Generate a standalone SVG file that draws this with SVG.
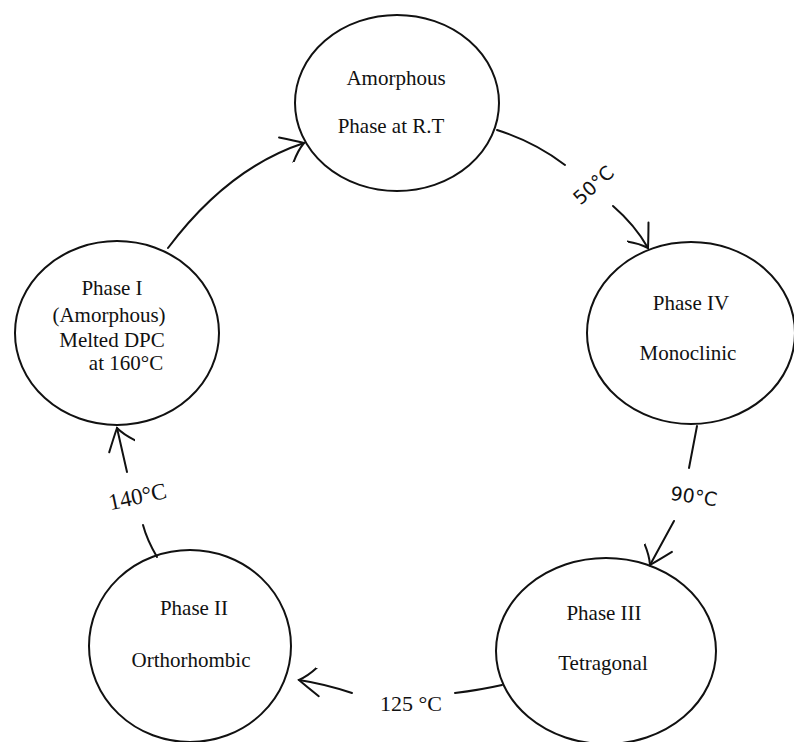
<svg xmlns="http://www.w3.org/2000/svg" width="794" height="742" viewBox="0 0 794 742">
<defs>
<style>
.node ellipse{fill:#fff;stroke:#111;stroke-width:2}
.lbl{font-family:"Liberation Serif","Times New Roman",serif;font-size:21px;fill:#111;text-anchor:middle}
.con path{fill:none;stroke:#111;stroke-width:2;stroke-linecap:round}
.tserif{font-family:"Liberation Serif","Times New Roman",serif;font-size:22px;fill:#111;text-anchor:middle}
.tsans{font-family:"DejaVu Sans","Liberation Sans",sans-serif;font-size:19px;fill:#111;text-anchor:middle}
</style>
<marker id="arr" markerUnits="userSpaceOnUse" markerWidth="30" markerHeight="30" viewBox="-26 -15 30 30" refX="0" refY="0" orient="auto">
<path d="M-22,-13 Q-8,-5 0,0 Q-8,5 -16,15" fill="none" stroke="#111" stroke-width="2" stroke-linecap="round"/>
</marker>
</defs>
<rect width="794" height="742" fill="#fff"/>
<g id="amorphous" class="node">
<ellipse cx="397" cy="103" rx="102" ry="88"/>
<text class="lbl" x="396" y="85">Amorphous</text>
<text class="lbl" x="391" y="133">Phase at R.T</text>
</g>
<g id="phase4" class="node">
<ellipse cx="691" cy="333" rx="104" ry="91"/>
<text class="lbl" x="691" y="310">Phase IV</text>
<text class="lbl" x="688" y="360">Monoclinic</text>
</g>
<g id="phase3" class="node">
<ellipse cx="606" cy="651" rx="110" ry="93"/>
<text class="lbl" x="604" y="620">Phase III</text>
<text class="lbl" x="603" y="670">Tetragonal</text>
</g>
<g id="phase2" class="node">
<ellipse cx="190" cy="646" rx="101" ry="96"/>
<text class="lbl" x="194" y="615">Phase II</text>
<text class="lbl" x="191" y="667">Orthorhombic</text>
</g>
<g id="phase1" class="node">
<ellipse cx="117" cy="333" rx="102" ry="92"/>
<text class="lbl" x="112" y="295">Phase I</text>
<text class="lbl" x="109" y="322">(Amorphous)</text>
<text class="lbl" x="112" y="347">Melted DPC</text>
<text class="lbl" x="126" y="370">at 160°C</text>
</g>
<g id="connectors" class="con">
<path d="M168,248 Q228,168 304,143" marker-end="url(#arr)"/>
<path d="M497,130 Q535,142 565,165"/>
<path d="M613,206 Q635,225 648,248" marker-end="url(#arr)"/>
<path d="M697,426 L689,468"/>
<path d="M674,521 L650,565" marker-end="url(#arr)"/>
<path d="M502,685 Q480,690 455,693"/>
<path d="M352,693 Q325,684 299,680" marker-end="url(#arr)"/>
<path d="M157,557 Q147,540 143,525"/>
<path d="M127,472 Q122,450 117,428" marker-end="url(#arr)"/>
</g>
<g id="labels">
<text class="tsans" transform="translate(598,190) rotate(-42)">50°C</text>
<text class="tsans" transform="translate(693,503) rotate(8)">90°C</text>
<text class="tserif" style="font-size:23px" transform="translate(139,504) rotate(-12)">140°C</text>
<text class="tserif" x="411" y="711">125 °C</text>
</g>
</svg>
